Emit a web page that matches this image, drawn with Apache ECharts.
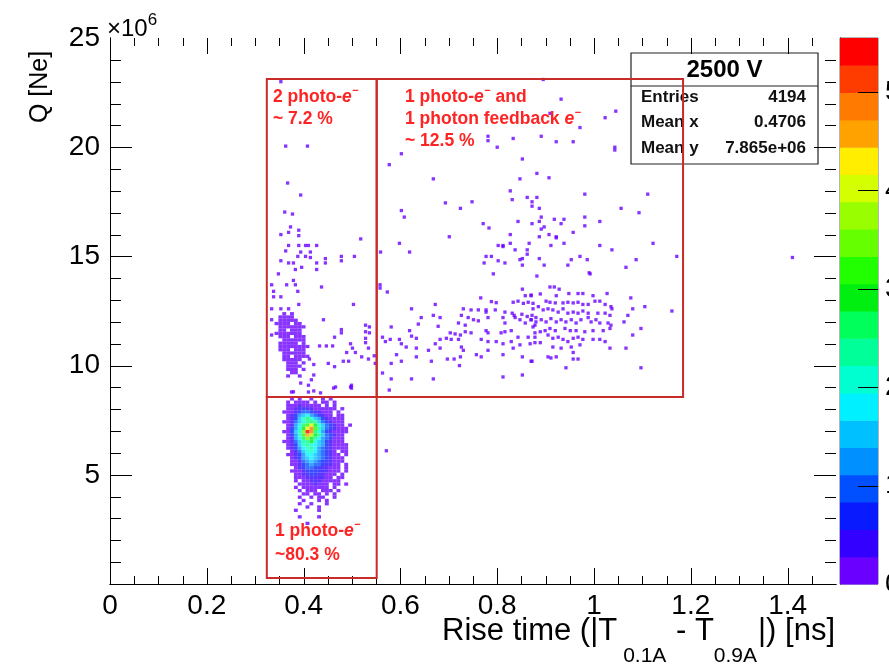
<!DOCTYPE html>
<html>
<head>
<meta charset="utf-8">
<script src="https://cdn.jsdelivr.net/npm/echarts@6/dist/echarts.min.js"></script>
<style>
  html, body { margin: 0; padding: 0; background: #ffffff; }
  #chart { width: 889px; height: 667px; }
</style>
</head>
<body>
<div id="chart"></div>
<script>
// Axis ranges (Q in units of 10^6 Ne)
const xRange = [0, 1.5];
const yRange = [0, 25];
const zTop = 5.55;
const xMajor = 0.2, xMinor = 0.05, yMajor = 5, yMinor = 1, zMajor = 1;

// Colour palette of the z scale, lowest band first
const palette = ['#6a00ff', '#3300ff', '#0a1aff', '#0050ff', '#0090ff', '#00c0ff', '#00f0ff',
  '#00ffd0', '#00ff99', '#00ff5a', '#00ee10', '#22ff00', '#66ff00', '#99ff00', '#d4ff00',
  '#ffee00', '#ffa200', '#ff7a00', '#ff3c00', '#ff0000'];

// Single entries: 1 photo-e + 1 photon feedback e (rise time, Q)
const feedbackPoints = [
  [.792,14.2],[.558,13.7],[.558,13.55],[.573,13.37],[.766,13.1],[.788,12.93],[.798,12.88],
  [.672,12.8],[.623,12.6],[.730,12.6],[.746,12.55],[.761,12.55],[.777,12.55],[.796,12.55],
  [.833,12.9],[.843,12.95],[.854,12.85],[.864,12.9],[.874,12.85],[.858,13.2],[.870,13.2],[.852,13.5],
  [.831,12.4],[.835,12.3],[.851,12.35],[.862,12.25],[.872,12.3],[.880,12.2],
  [.668,12.3],[.682,12.2],[.643,12.2],[.726,12.3],[.740,12.2],[.751,12.1],[.761,12.05],
  [.777,12.45],[.781,12.2],[.816,12.45],[.812,12.2],[.816,11.95],
  [.837,12.2],[.847,12.1],[.858,11.95],[.870,12.1],[.878,11.85],
  [.637,11.9],[.678,11.8],[.720,11.95],[.734,11.85],[.619,11.6],
  [.703,11.5],[.713,11.45],[.724,11.4],[.734,11.55],[.746,11.5],[.777,11.6],[.781,11.5],
  [.808,11.5],[.816,11.55],[.829,11.6],[.843,11.3],[.864,11.3],[.878,11.3],
  [.581,11.77],[.563,11.3],[.579,11.2],[.598,11.2],[.623,11.35],[.633,11.25],
  [.682,11.2],[.695,11.25],[.705,11.2],[.720,11.2],[.767,11.2],[.781,11.1],[.798,11.1],
  [.812,11.0],[.829,11.1],[.847,10.95],[.868,11.0],[.878,11.05],[.569,11.1],
  [.602,11.0],[.612,10.85],[.672,11.0],[.682,10.8],[.726,10.85],[.730,10.7],[.633,10.8],[.658,10.7],[.781,10.7],[.833,10.8],
  [.592,10.5],[.633,10.4],[.697,10.3],[.711,10.3],[.724,10.4],[.757,10.5],[.767,10.4],[.812,10.5],[.852,10.4],[.870,10.2],
  [.602,10.2],[.664,10.2],[.722,10.0],[.581,10.1],[.563,9.66],[.581,9.39],[.623,9.39],[.668,9.39],[.812,9.48],[.852,9.57],[.577,8.88],
  [.882,14.1],[.992,14.2],[.909,13.6],[.918,13.6],[.928,13.5],[.870,13.23],[.889,13.28],
  [.922,13.2],[.948,13.3],[.967,13.3],[.977,13.3],[.998,13.2],[1.027,13.3],[1.076,13.1],
  [.901,12.95],[.909,12.9],[.920,12.87],[.936,12.87],[.946,12.9],[.957,12.87],[.967,12.9],[.977,12.8],[.988,12.8],
  [1.002,12.95],[1.012,12.95],[1.023,12.8],[1.035,12.7],[1.037,12.6],[1.080,12.6],[1.105,12.7],[1.161,12.5],
  [.874,12.6],[.885,12.7],[.895,12.55],[.905,12.6],[.915,12.55],
  [.926,12.45],[.936,12.6],[.946,12.4],[.957,12.45],[.967,12.4],[.977,12.5],[.988,12.4],
  [1.008,12.4],[1.023,12.4],[1.033,12.3],[1.070,12.3],
  [.870,12.1],[.880,12.0],[.891,12.1],[.901,12.0],[.911,12.15],[.922,12.0],
  [.932,12.1],[.942,12.0],[.953,12.1],[.963,11.95],[.973,12.1],[.988,12.2],
  [.994,12.0],[1.004,12.1],[1.012,11.95],[1.029,11.95],[1.035,11.85],[1.062,12.0],
  [.874,11.77],[.889,11.55],[.899,11.6],[.909,11.7],[.920,11.6],
  [.940,11.7],[.951,11.6],[.963,11.6],[.981,11.55],[.998,11.6],[1.019,11.6],[1.033,11.7],[1.097,11.7],
  [.905,11.4],[.915,11.25],[.926,11.3],[.936,11.2],[.946,11.1],[.957,11.25],[.967,11.3],[.977,11.2],
  [.998,11.2],[1.012,11.2],[1.023,11.1],[1.080,11.4],[.878,11.5],[.889,11.05],
  [.915,10.85],[.932,10.8],[.953,10.85],[.957,10.6],[.971,10.95],[1.033,10.8],[1.066,10.8],
  [.905,10.4],[.911,10.35],[.922,10.4],[.957,10.3],[.967,10.3],[.872,10.2],[.942,9.9],[1.097,9.9],
  [.602,19.7],[.577,19.2],[.852,19.46],[1.043,19.87],[.882,18.8],[.907,18.6],[.668,18.55],[.847,18.55],
  [.827,18.0],[.831,17.6],[.862,17.7],[.882,17.7],[.872,17.5],[.872,17.3],[.981,17.85],[1.111,17.85],
  [.693,17.45],[.748,17.5],[.724,17.2],[.602,17.1],[.608,16.8],[.887,17.2],[1.056,17.2],[1.093,17.0],
  [.771,16.5],[.783,16.3],[.843,16.6],[.872,16.5],[.887,16.6],[.891,16.8],[.918,16.7],[.932,16.5],[.938,16.7],
  [.981,16.8],[.981,16.4],[1.012,16.6],[.891,16.25],[.897,16.35],[.957,16.1],[.701,15.9],[.598,15.6],[.619,15.2],
  [.827,16.0],[.827,15.6],[.887,15.9],[.907,16.0],[.922,15.9],[.922,15.85],[.938,15.6],[.866,15.6],
  [.802,15.5],[.812,15.5],[.812,15.45],[.837,15.3],[.862,15.3],[.862,15.1],[.911,15.5],[1.012,15.5],[1.037,15.3],[1.122,15.6],
  [.559,15.2],[.777,15.0],[.788,15.0],[.773,14.7],[.802,14.8],[.816,14.7],
  [.847,14.85],[.852,14.9],[.852,14.6],[.887,14.9],[.897,14.6],[.946,14.6],[.953,14.85],[.971,15.0],[.986,14.85],
  [.990,14.25],[1.066,14.5],[1.087,14.85],[1.171,15.0],
  [.895,23.1],[.932,22.2],[1.045,21.65],[.909,21.55],[.971,20.9],[1.023,21.35],
  [.781,20.5],[.781,20.3],[.800,20.0],[.833,20.4],[.891,20.5],[.922,20.25],[.957,20.25],[1.043,20.0],
  [1.410,14.95],[.571,6.1]
];

// Single entries: 2 photo-e region and the tail towards the main peak
const twoPhotoPoints = [
  [.353,23.0],[.363,20.05],[.408,20.05],[.367,18.36],[.361,17.03],[.377,16.94],[.394,17.81],
  [.373,16.35],[.390,16.2],[.390,15.95],[.369,16.1],[.353,16.0],[.518,15.8],
  [.369,15.5],[.390,15.5],[.404,15.5],[.410,15.5],[.427,15.5],
  [.363,15.25],[.394,15.2],[.414,15.2],[.388,15.0],[.404,15.0],[.414,14.95],
  [.445,14.9],[.445,14.7],[.427,14.7],[.478,15.0],[.478,14.8],[.505,15.0],
  [.353,14.8],[.369,14.7],[.379,14.7],[.383,14.4],[.396,14.5],[.427,14.4],[.348,14.2],
  [.379,13.9],[.365,13.7],[.383,13.7],[.437,13.6],[.334,13.7],[.338,13.4],[.338,13.15],[.353,13.15],
  [.388,13.4],[.390,12.8],[.503,12.8],[.334,12.6],[.353,12.6],[.369,12.6],[.334,11.4],[.334,12.1],
  [.441,12.1],[.478,11.65],[.478,11.5],[.464,11.3],[.460,10.9],[.433,10.9],[.447,10.9],
  [.497,11.0],[.501,10.8],[.507,10.6],
  [.528,11.85],[.536,11.77],[.528,11.55],[.536,11.5],[.528,11.25],[.528,11.05],[.534,10.8],
  [.520,10.4],[.534,10.3],[.546,10.45],[.548,10.1],
  [.489,10.6],[.482,10.2],[.493,10.2],[.451,10.1],[.464,9.95],[.412,10.3],[.421,10.05],
  [.421,9.57],[.416,9.35],[.410,9.1],
  [.462,8.97],[.499,9.1],[.499,8.97],[.379,8.8],[.421,8.84],[.435,8.75],
  [.394,9.2],[.466,9.02],[.497,9.02],[.375,8.79],[.410,8.79]
];

// Binned counts, one string per Q row (top row first), one character per
// rise-time bin; '.' = empty, 1..k = colour level
const twoPhotoRows = [
  '..1.1....',
  '.1111....',
  '.11111...',
  '1111.11..',
  '.1111111.',
  '.11.111..',
  '1111111..',
  '.111.111.',
  '..111111.',
  '.11111.1.',
  '.11111111',
  '.111.111.',
  '..111111.',
  '..11.1111',
  '..11111..',
  '...111.1.',
  '...1111..',
  '...111.1.',
  '....11...',
  '...1..1..'
];
const singlePhotoRows = [
  '..1.1..1..1.1.....',
  '.1.1111.1.11.1....',
  '.111211111.1.1....',
  '.1122322111111.1..',
  '1112344322111.1...',
  '.123567543211.11..',
  '.12368a865321111..',
  '1124689a96432111..',
  '.1257acfb8643211.1',
  '.1358bgic96432111.',
  '11368dkia85321111.',
  '.1358cheb9643211..',
  '.1257adb97543111..',
  '1124699b86532111..',
  '.1236898765321111.',
  '.1235789754321111.',
  '..124688754321.11.',
  '.11235776543211.1.',
  '..12356765432111..',
  '..11245654332111..',
  '..1123454432211.1.',
  '...123443322111.1.',
  '..1112333322111.1.',
  '...11223322111.1..',
  '...1112222211.11..',
  '...1.1122211111...',
  '....11112111.11.1.',
  '...1.1111111.1....',
  '....1.111.111.1...',
  '.....11.11.1.1....',
  '....1..1.11..1....',
  '.....1...1.1......',
  '....1..1...1......',
  '......1..1........',
  '...1.....1........',
  '..................',
  '....1....1........',
  '..................',
  '......1...........'
];
// Bin grids of the two row blocks: [x of first bin, bin width, Q at top edge, bin height]
const twoPhotoBins = [0.340, 0.008, 12.45, 0.15];
const singlePhotoBins = [0.356, 0.008, 8.55, 0.15];

// Selection regions [xMin, yMin, xMax, yMax]
const regionBoxes = [
  [0.324, 8.56, 0.551, 23.12],
  [0.551, 8.56, 1.184, 23.12],
  [0.324, 0.27, 0.551, 8.56]
];

const statsTitle = '2500 V';
const statsRows = [['Entries', '4194'], ['Mean x', '0.4706'], ['Mean y', '7.865e+06']];

// ---------------------------------------------------------------------
function binsToCells(rows, bins) {
  const out = [];
  rows.forEach((row, r) => {
    for (let c = 0; c < row.length; c++) {
      if (row[c] === '.') continue;
      out.push([bins[0] + (c + 0.5) * bins[1], bins[2] - (r + 0.5) * bins[3], parseInt(row[c], 36)]);
    }
  });
  return out;
}
const cells = binsToCells(twoPhotoRows, twoPhotoBins).concat(binsToCells(singlePhotoRows, singlePhotoBins));
cells.sort((a, b) => a[2] - b[2]);
const singles = feedbackPoints.concat(twoPhotoPoints).map(p => [p[0], p[1], 1]);
const bands = palette.map((c, i) => [i * zTop / palette.length, (i + 1) * zTop / palette.length, i]);

// Frame ticks: [value, side, length] with side 0 bottom, 1 top, 2 left, 3 right
const frameTicks = [];
const xPerMajor = Math.round(xMajor / xMinor), yPerMajor = Math.round(yMajor / yMinor);
for (let i = 1; i * xMinor < xRange[1] - 1e-9; i++) {
  const len = i % xPerMajor === 0 ? 16 : 8;
  frameTicks.push([i * xMinor, 0, len], [i * xMinor, 1, len]);
}
for (let i = 1; i * yMinor < yRange[1] - 1e-9; i++) {
  const len = i % yPerMajor === 0 ? 22 : 11;
  frameTicks.push([i * yMinor, 2, len], [i * yMinor, 3, len]);
}
// Colour scale ticks
const scaleTicks = [];
for (let v = zMajor; v < zTop; v += zMajor) scaleTicks.push([v]);

const SANS = 'Liberation Sans';
const RED = '#ff2424';
const measureCtx = document.createElement('canvas').getContext('2d');
function textRuns(runs, x, y, align, z) {
  const widths = runs.map(r => {
    measureCtx.font = (r.italic ? 'italic ' : '') + (r.bold ? 'bold ' : '') + r.size + "px '" + r.family + "'";
    return (r.pre || 0) + measureCtx.measureText(r.text).width + (r.gap || 0);
  });
  const total = widths.reduce((a, b) => a + b, 0);
  let cx = align === 'right' ? x - total : x;
  return runs.map((r, i) => {
    const el = {
      type: 'text', x: cx + (r.pre || 0), y: y + (r.dy || 0), z: z || 6,
      style: {
        text: r.text, fontSize: r.size, fontFamily: r.family,
        fontWeight: r.bold ? 'bold' : 'normal', fontStyle: r.italic ? 'italic' : 'normal',
        fill: r.color || '#000', align: 'left', verticalAlign: 'middle'
      }
    };
    cx += widths[i];
    return el;
  });
}
const noteFont = { family: SANS, bold: true, size: 17.5, color: RED };
function electron(prefix, suffix) {
  const out = [Object.assign({}, noteFont, { text: prefix }),
    Object.assign({}, noteFont, { text: 'e', italic: true }),
    Object.assign({}, noteFont, { text: '\u2212', size: 11, dy: -6, pre: 0.5 })];
  if (suffix) out.push(Object.assign({}, noteFont, { text: suffix }));
  return out;
}
function redLine(text) { return [Object.assign({}, noteFont, { text: text })]; }

const graphics = [];
// x-axis title with subscripts
graphics.push(...textRuns([
  { text: 'Rise time (|T', family: SANS, size: 31 },
  { text: '0.1A', family: SANS, size: 21, dy: 25, pre: 6, gap: 1 },
  { text: ' - T', family: SANS, size: 31 },
  { text: '0.9A', family: SANS, size: 21, dy: 25, gap: 1 },
  { text: '|) [ns]', family: SANS, size: 31 }
], 835, 631, 'right'));
// y-axis title
graphics.push({ type: 'text', x: 40, y: 87, rotation: Math.PI / 2, z: 6,
  style: { text: 'Q [Ne]', fontSize: 25, fontFamily: SANS, fill: '#000', align: 'center', verticalAlign: 'middle' } });
// exponent of the Q axis
graphics.push(...textRuns([
  { text: '\u00d710', family: SANS, size: 24 },
  { text: '6', family: SANS, size: 17, dy: -9 }
], 107, 29, 'left'));
// region notes
graphics.push(...textRuns(electron('2 photo-'), 273, 97, 'left'));
graphics.push(...textRuns(redLine('~ 7.2 %'), 273, 119, 'left'));
graphics.push(...textRuns(electron('1 photo-', ' and'), 405, 97, 'left'));
graphics.push(...textRuns(electron('1 photon feedback '), 405, 119, 'left'));
graphics.push(...textRuns(redLine('~ 12.5 %'), 405, 141, 'left'));
graphics.push(...textRuns(electron('1 photo-'), 275, 531, 'left'));
graphics.push(...textRuns(redLine('~80.3 %'), 275, 555, 'left'));
// statistics box
graphics.push({ type: 'rect', z: 1, shape: { x: 631, y: 53, width: 187, height: 111 },
  style: { fill: '#ffffff', stroke: '#222', lineWidth: 1.2 } });
graphics.push({ type: 'line', z: 1, shape: { x1: 631, y1: 86, x2: 818, y2: 86 },
  style: { stroke: '#222', lineWidth: 1.2 } });
graphics.push({ type: 'text', z: 1, x: 724.5, y: 70,
  style: { text: statsTitle, fontSize: 24, fontWeight: 'bold', fontFamily: SANS, fill: '#000', align: 'center', verticalAlign: 'middle' } });
statsRows.forEach((row, i) => {
  const y = 97 + i * 25.5;
  graphics.push({ type: 'text', z: 1, x: 641, y: y,
    style: { text: row[0], fontSize: 17, fontWeight: 'bold', fontFamily: SANS, fill: '#111', align: 'left', verticalAlign: 'middle' } });
  graphics.push({ type: 'text', z: 1, x: 806, y: y,
    style: { text: row[1], fontSize: 17, fontWeight: 'bold', fontFamily: SANS, fill: '#111', align: 'right', verticalAlign: 'middle' } });
});

const frameLine = { show: true, lineStyle: { color: '#000', width: 1 } };
const labelStyle = { fontSize: 28, fontFamily: SANS, color: '#000' };

// One axis per frame side: frame line and labels (ticks are drawn by the tick series)
function xAxisSide(position, labels) {
  return {
    type: 'value', gridIndex: 0, position: position, min: xRange[0], max: xRange[1], interval: xMajor,
    axisLine: frameLine, axisTick: { show: false },
    axisLabel: labels ? Object.assign({ show: true, margin: 8, showMaxLabel: false }, labelStyle) : { show: false },
    splitLine: { show: false }
  };
}
function yAxisSide(position, labels) {
  return {
    type: 'value', gridIndex: 0, position: position, min: yRange[0], max: yRange[1], interval: yMajor,
    axisLine: frameLine, axisTick: { show: false },
    axisLabel: labels ? Object.assign({ show: true, margin: 10, showMinLabel: false }, labelStyle) : { show: false },
    splitLine: { show: false }
  };
}
function crispLine(p, q, vertical) {
  const x1 = vertical ? Math.round(p[0]) + 0.5 : p[0];
  const y1 = vertical ? p[1] : Math.round(p[1]) + 0.5;
  return { type: 'line', shape: { x1: x1, y1: y1, x2: vertical ? x1 : q[0], y2: vertical ? q[1] : y1 },
    style: { stroke: '#000', lineWidth: 1 } };
}

const option = {
  animation: false,
  backgroundColor: '#ffffff',
  grid: [
    { left: 110, top: 38, width: 726, height: 546, outerBoundsMode: 'none' },
    { left: 840, top: 38, width: 38, height: 546, outerBoundsMode: 'none',
      show: true, borderColor: '#444', borderWidth: 0.8, backgroundColor: 'transparent' }
  ],
  xAxis: [
    xAxisSide('bottom', true),
    xAxisSide('top', false),
    { type: 'value', gridIndex: 1, min: 0, max: 1, show: false }
  ],
  yAxis: [
    yAxisSide('left', true),
    yAxisSide('right', false),
    { type: 'value', gridIndex: 1, position: 'right', min: 0, max: zTop, interval: zMajor,
      axisLine: { show: true, lineStyle: { color: '#000', width: 1 } },
      axisTick: { show: false },
      axisLabel: Object.assign({ show: true, margin: 7, showMaxLabel: false }, labelStyle),
      splitLine: { show: false } }
  ],
  graphic: { elements: graphics },
  series: [
    {
      type: 'scatter', xAxisIndex: 0, yAxisIndex: 0, z: 3,
      symbol: 'rect', symbolSize: 3.3,
      data: singles,
      itemStyle: { color: palette[0] },
      silent: true,
      markArea: {
        silent: true, z: 10,
        label: { show: false },
        itemStyle: { color: 'rgba(0,0,0,0)', borderColor: '#c92a2a', borderWidth: 2 },
        data: regionBoxes.map(b => [{ coord: [b[0], b[1]] }, { coord: [b[2], b[3]] }])
      }
    },
    {
      type: 'scatter', xAxisIndex: 0, yAxisIndex: 0, z: 4,
      symbol: 'rect', symbolSize: [3.9, 3.3],
      data: cells, silent: true,
      itemStyle: { color: p => palette[Math.min(p.value[2], palette.length) - 1] }
    },
    {
      // ticks on the four sides of the frame, pointing inwards
      type: 'custom', xAxisIndex: 0, yAxisIndex: 0, silent: true, z: 5,
      data: frameTicks,
      renderItem: (params, api) => {
        const v = api.value(0), side = api.value(1), len = api.value(2);
        let p, q;
        if (side === 0) { p = api.coord([v, yRange[0]]); q = [p[0], p[1] - len]; }
        else if (side === 1) { p = api.coord([v, yRange[1]]); q = [p[0], p[1] + len]; }
        else if (side === 2) { p = api.coord([xRange[0], v]); q = [p[0] + len, p[1]]; }
        else { p = api.coord([xRange[1], v]); q = [p[0] - len, p[1]]; }
        return crispLine(p, q, side < 2);
      }
    },
    {
      type: 'custom', xAxisIndex: 2, yAxisIndex: 2, silent: true, z: 1,
      data: bands,
      encode: { y: [0, 1] },
      renderItem: (params, api) => {
        const p0 = api.coord([0, api.value(0)]);
        const p1 = api.coord([1, api.value(1)]);
        return { type: 'rect', shape: { x: p0[0], y: p1[1], width: p1[0] - p0[0], height: p0[1] - p1[1] + 0.5 },
          style: { fill: palette[api.value(2)] } };
      }
    },
    {
      // ticks of the colour scale, from its right edge inwards
      type: 'custom', xAxisIndex: 2, yAxisIndex: 2, silent: true, z: 6,
      data: scaleTicks,
      encode: { y: 0 },
      renderItem: (params, api) => {
        const p = api.coord([1, api.value(0)]);
        return crispLine(p, [p[0] - 20, p[1]], false);
      }
    }
  ]
};

const chart = echarts.init(document.getElementById('chart'), null, { renderer: 'canvas' });
chart.setOption(option);
</script>
</body>
</html>
